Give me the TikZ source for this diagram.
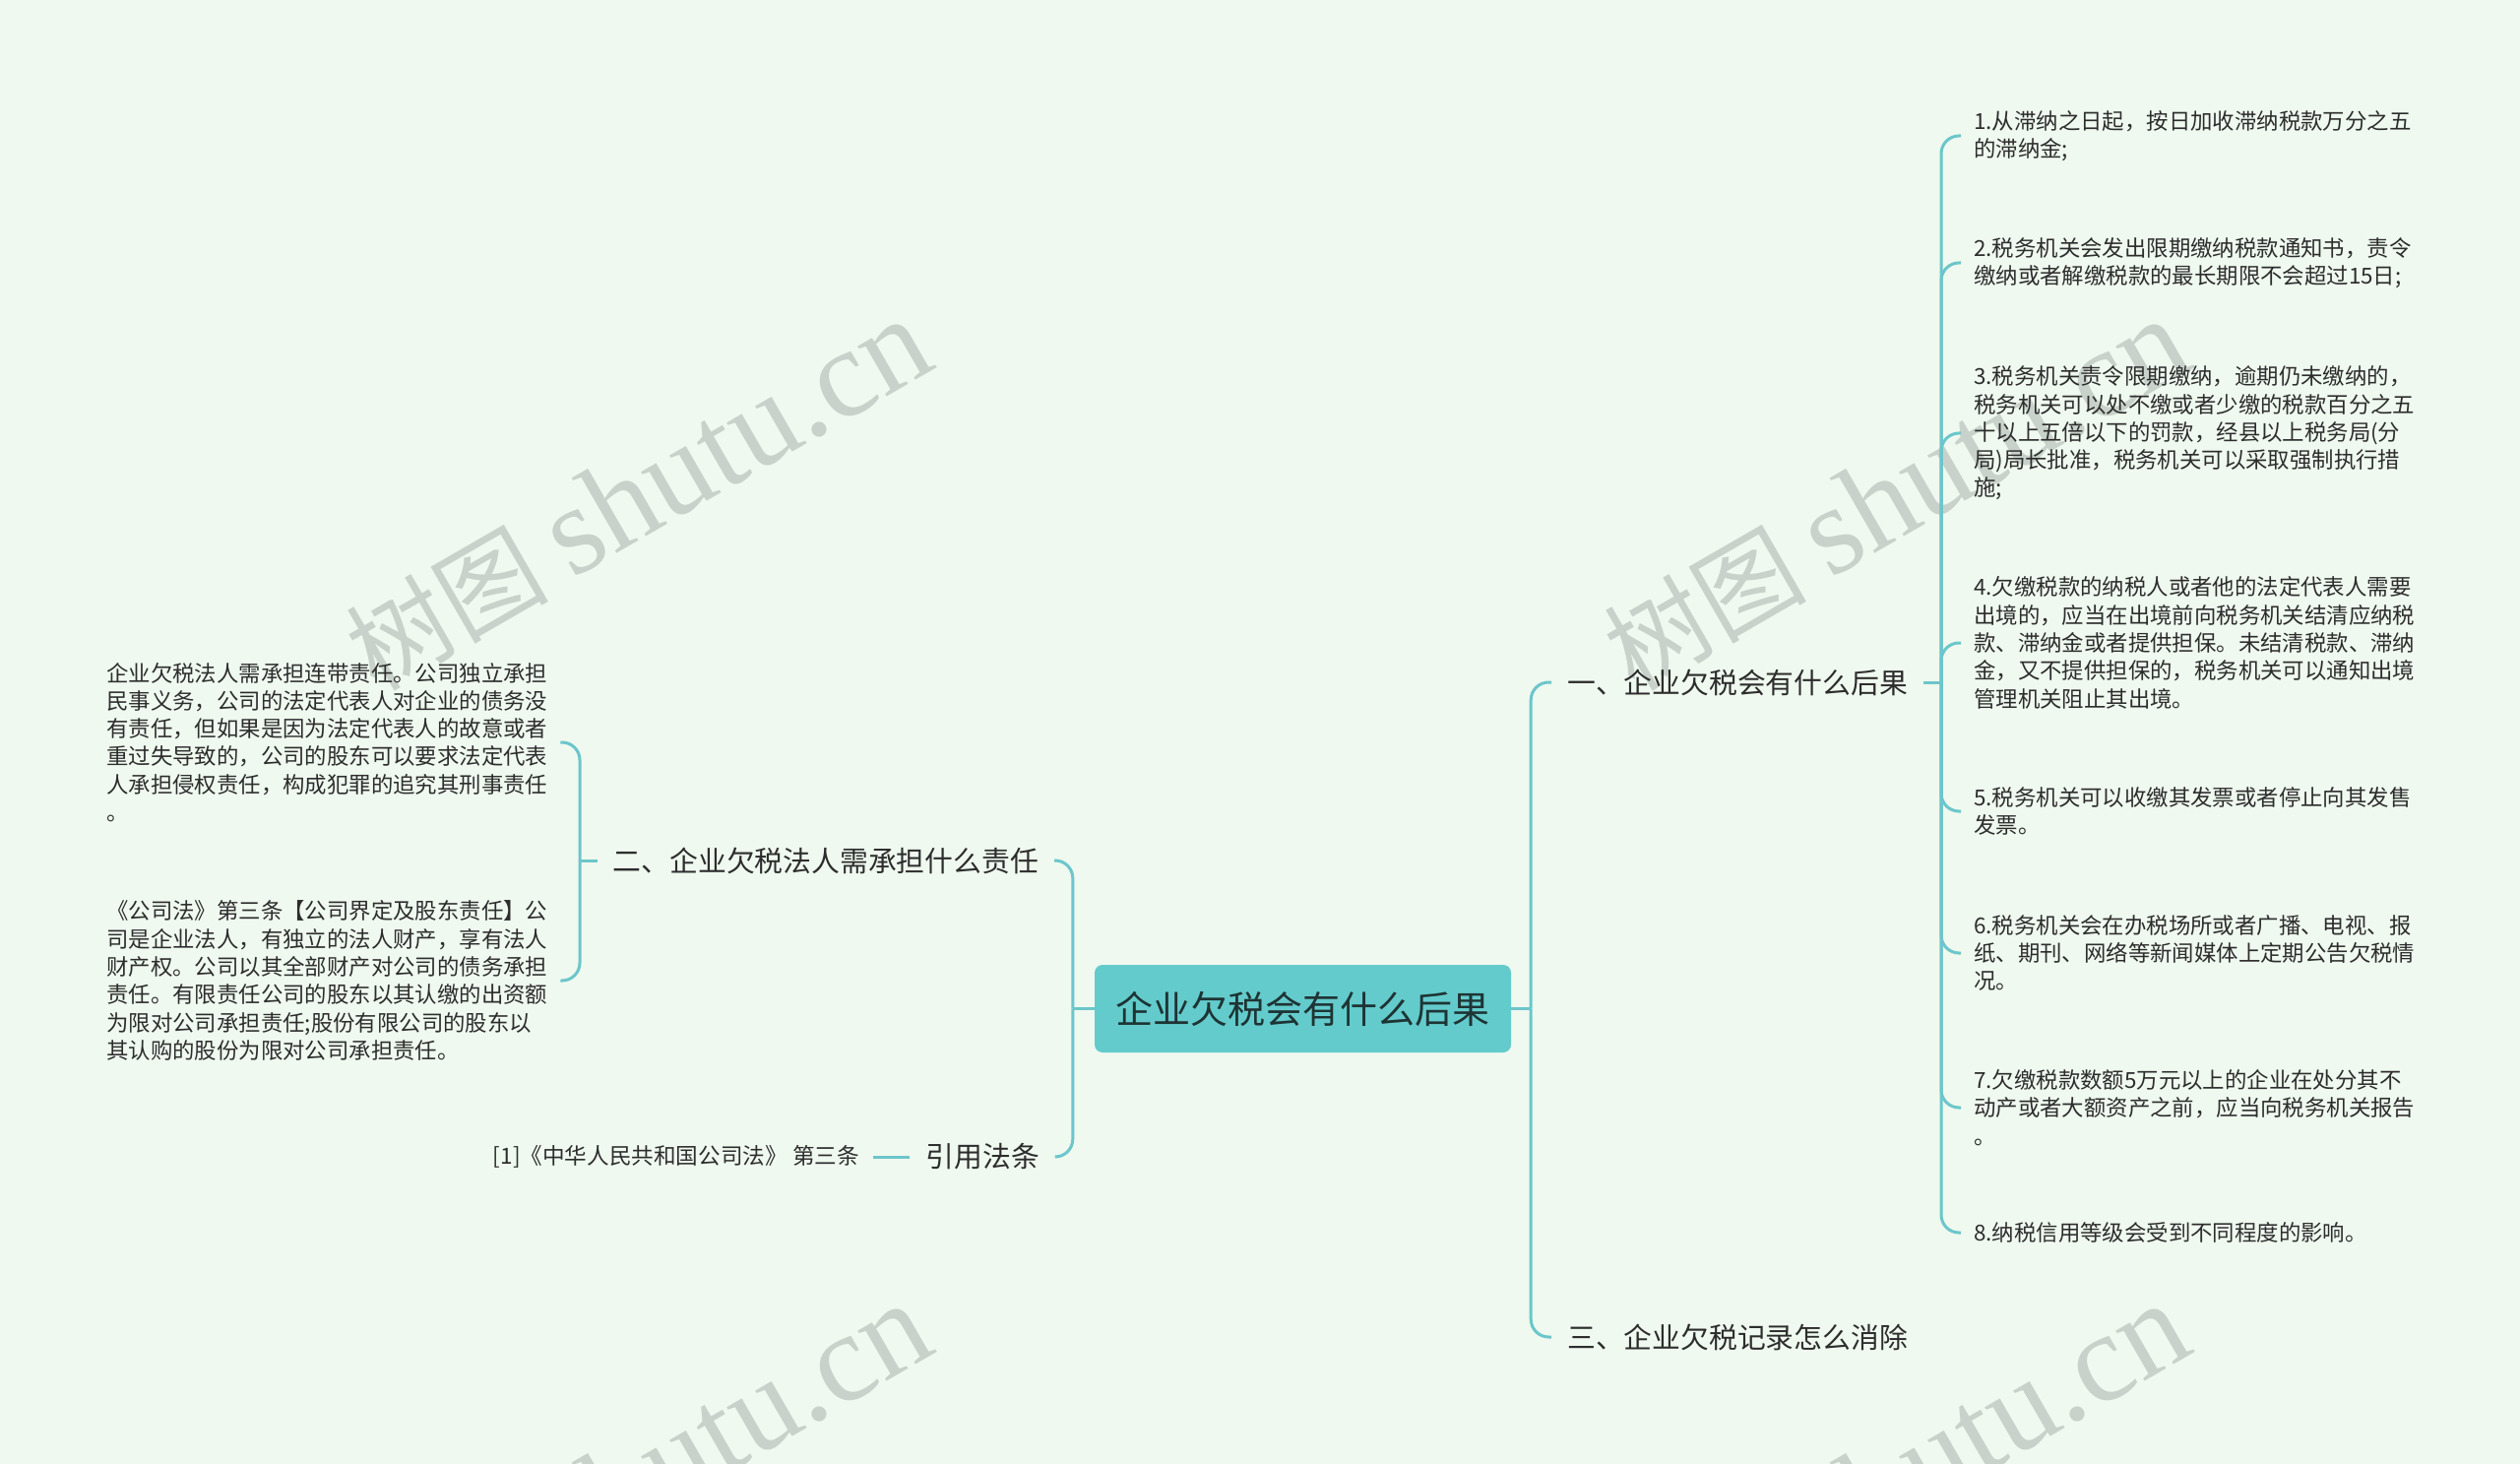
\documentclass[tikz,border=0pt]{standalone}
\usepackage{fontspec}
\newfontfamily\cjk{Noto Sans CJK SC}
\newfontfamily\wmserif{Liberation Serif}
\definecolor{bgc}{RGB}{239,249,239}
\definecolor{linec}{RGB}{108,198,203}
\definecolor{rootc}{RGB}{100,203,204}
\definecolor{roottxt}{RGB}{30,52,52}
\definecolor{txt}{RGB}{45,45,45}
\definecolor{wmc}{RGB}{200,210,202}
\newcommand{\wmtext}{{\cjk\fontsize{103pt}{110pt}\selectfont 树图}\hspace{24pt}{\wmserif\fontsize{128pt}{130pt}\selectfont shutu.cn}}
\begin{document}
\begin{tikzpicture}[x=1pt,y=-1pt,
  conn/.style={draw=linec,line width=3pt,rounded corners=18pt},
  item/.style={anchor=west,inner xsep=13pt,inner ysep=0pt,align=left,text=txt,
    font={\cjk\fontsize{22.4pt}{28.3pt}\selectfont}},
  sec/.style={inner xsep=16pt,inner ysep=0pt,text=txt,
    font={\cjk\fontsize{28.8pt}{34pt}\selectfont}},
  refn/.style={inner xsep=14pt,inner ysep=0pt,text=txt,
    font={\cjk\fontsize{22.6pt}{26pt}\selectfont}},
  rootbox/.style={fill=rootc,rounded corners=8pt,minimum width=423pt,minimum height=89pt,
    inner sep=0pt,text=roottxt,font={\cjk\fontsize{38pt}{44pt}\selectfont}},
  wm/.style={anchor=base,rotate=30,text=wmc,inner sep=0pt}]
\useasboundingbox (0,0) rectangle (2560,1487);
\fill[bgc] (0,0) rectangle (2560,1487);
% watermarks
\begin{scope}
\clip (0,0) rectangle (2560,1487);
\node[wm] (w1) at (668,538) {\wmtext};
\node[wm] (w2) at (1946,538) {\wmtext};
\node[wm] (w3) at (668,1538) {\wmtext};
\node[wm] (w4) at (1946,1538) {\wmtext};
\end{scope}
% root
\node[rootbox] (root) at (1323.5,1024.5) {企业欠税会有什么后果};
% right side
\node[sec,anchor=west] (s1) at (1576,693) {一、企业欠税会有什么后果};
\node[sec,anchor=west] (s3) at (1576,1358) {三、企业欠税记录怎么消除};
\path (root.east) ++(20,0) coordinate (jr);
\draw[conn] (root.east) -- (jr);
\draw[conn] (jr) |- (s1.west);
\draw[conn] (jr) |- (s3.west);
\coordinate (j1) at (1972,693);
\draw[conn] (s1.east) -- (j1);
\node[item] (i1) at (1992,138) {1.从滞纳之日起，按日加收滞纳税款万分之五\\的滞纳金;};
\node[item] (i2) at (1992,267) {2.税务机关会发出限期缴纳税款通知书，责令\\缴纳或者解缴税款的最长期限不会超过15日;};
\node[item] (i3) at (1992,440) {3.税务机关责令限期缴纳，逾期仍未缴纳的，\\税务机关可以处不缴或者少缴的税款百分之五\\十以上五倍以下的罚款，经县以上税务局(分\\局)局长批准，税务机关可以采取强制执行措\\施;};
\node[item] (i4) at (1992,653) {4.欠缴税款的纳税人或者他的法定代表人需要\\出境的，应当在出境前向税务机关结清应纳税\\款、滞纳金或者提供担保。未结清税款、滞纳\\金，又不提供担保的，税务机关可以通知出境\\管理机关阻止其出境。};
\node[item] (i5) at (1992,824) {5.税务机关可以收缴其发票或者停止向其发售\\发票。};
\node[item] (i6) at (1992,968) {6.税务机关会在办税场所或者广播、电视、报\\纸、期刊、网络等新闻媒体上定期公告欠税情\\况。};
\node[item] (i7) at (1992,1125) {7.欠缴税款数额5万元以上的企业在处分其不\\动产或者大额资产之前，应当向税务机关报告\\。};
\node[item] (i8) at (1992,1252) {8.纳税信用等级会受到不同程度的影响。};
\foreach \i in {1,...,8} {\draw[conn] (j1) |- (i\i.west);}
% left side
\path (root.west) ++(-22,0) coordinate (jl);
\node[sec,anchor=east] (s2) at (1071,874) {二、企业欠税法人需承担什么责任};
\node[sec,anchor=east] (r1) at (1072,1175) {引用法条};
\draw[conn] (root.west) -- (jl);
\draw[conn] (jl) |- (s2.east);
\draw[conn] (jl) |- (r1.east);
\coordinate (j2) at (589,874);
\draw[conn] (s2.west) -- (j2);
\node[item] (l1) at (95,754) {企业欠税法人需承担连带责任。公司独立承担\\民事义务，公司的法定代表人对企业的债务没\\有责任，但如果是因为法定代表人的故意或者\\重过失导致的，公司的股东可以要求法定代表\\人承担侵权责任，构成犯罪的追究其刑事责任\\。};
\node[item] (l2) at (95,996) {《公司法》第三条【公司界定及股东责任】公\\司是企业法人，有独立的法人财产，享有法人\\财产权。公司以其全部财产对公司的债务承担\\责任。有限责任公司的股东以其认缴的出资额\\为限对公司承担责任;股份有限公司的股东以\\其认购的股份为限对公司承担责任。};
\draw[conn] (j2) |- (l1.east);
\draw[conn] (j2) |- (l2.east);
\node[refn,anchor=east] (ref) at (887,1175) {[1]《中华人民共和国公司法》 第三条};
\draw[conn] (r1.west) -- (ref.east);
\end{tikzpicture}
\end{document}
